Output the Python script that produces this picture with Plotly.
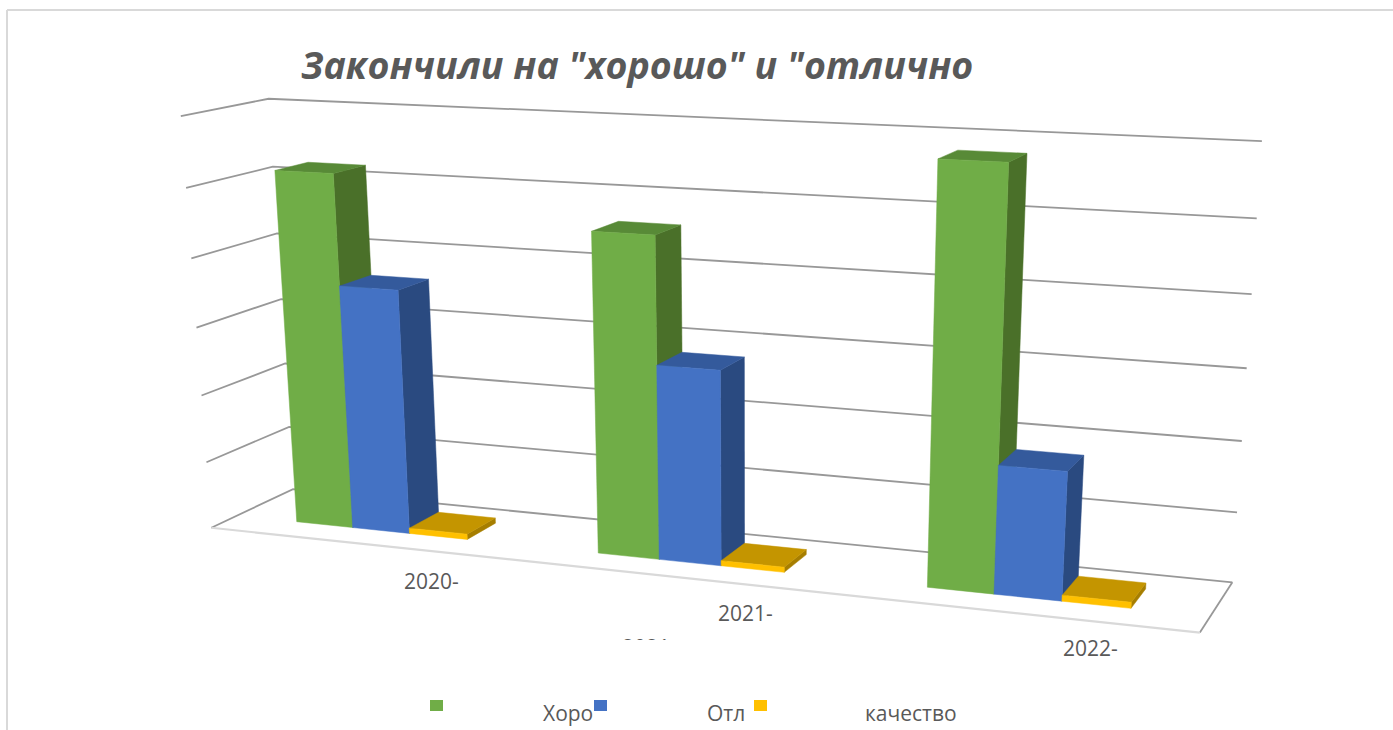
import plotly.graph_objects as go

# ---- data ----
categories = ["2020-", "2021-", "2022-"]
clipped_label = "2021"
good = [52, 46, 58]
excellent = [36, 28, 18]
quality = [0.8, 0.75, 0.85]
series_names = ["Хоро", "Отл", "качество"]
title_text = 'Закончили на "хорошо" и "отлично'
axis_levels = [0, 10, 20, 30, 40, 50, 60]

# ---- style and layout ----
W, H = 1393, 730
FONT = "Open Sans"
TEXT = "#595959"
GRID = "#989898"
PALETTE = [
    dict(front="#70AD47", side="#4A7029", top="#588A37"),
    dict(front="#4472C4", side="#2A4A80", top="#345A9C"),
    dict(front="#FFC000", side="#A67E00", top="#C49500"),
]
# Perspective camera of the 3-D chart: category units, depth 0..1, value/10
CAMERA = [
    [278.749316, 98.3510054, -6.7022457, 211.3191477],
    [8.1828619, -10.8011311, -69.6462189, 527.7475676],
    [-0.0423115, 0.0567911, -0.0089365, 1.0],
]
BAR_START, BAR_WIDTH = 0.208, 0.192
DEPTH_FRONT, DEPTH_BACK = 0.305, 0.70


def project(x, y, v):
    z = v / 10
    h = [r[0] * x + r[1] * y + r[2] * z + r[3] for r in CAMERA]
    return h[0] / h[2], h[1] / h[2]


def polygon(corners, color):
    pts = [project(*c) for c in corners]
    xs = [p[0] for p in pts] + [pts[0][0]]
    ys = [p[1] for p in pts] + [pts[0][1]]
    return go.Scatter(x=xs, y=ys, mode="lines", fill="toself", fillcolor=color,
                      line=dict(color=color, width=0.5), hoverinfo="skip", showlegend=False)


def path(corners, color, width):
    pts = [project(*c) for c in corners]
    return go.Scatter(x=[p[0] for p in pts], y=[p[1] for p in pts], mode="lines",
                      line=dict(color=color, width=width), hoverinfo="skip", showlegend=False)


fig = go.Figure()
n = len(categories)

# Frame and gridlines
for lv in axis_levels:
    fig.add_trace(path([(0, 0, lv), (0, 1, lv), (n, 1, lv)], GRID, 1.8))
fig.add_trace(path([(n, 1, 0), (n, 0, 0)], GRID, 1.8))
fig.add_trace(path([(0, 0, 0), (n, 0, 0)], "#D9D9D9", 2.2))

# Bars
for g in range(n):
    for s, values in enumerate([good, excellent, quality]):
        v = values[g]
        x0 = g + BAR_START + s * BAR_WIDTH
        x1 = x0 + BAR_WIDTH
        y0, y1 = DEPTH_FRONT, DEPTH_BACK
        c = PALETTE[s]
        fig.add_trace(polygon([(x1, y0, 0), (x1, y1, 0), (x1, y1, v), (x1, y0, v)], c["side"]))
        fig.add_trace(polygon([(x0, y0, v), (x1, y0, v), (x1, y1, v), (x0, y1, v)], c["top"]))
        fig.add_trace(polygon([(x0, y0, 0), (x1, y0, 0), (x1, y0, v), (x0, y0, v)], c["front"]))

# Second line of the middle label, cut off by the plot area in the original
fig.add_trace(go.Scatter(x=[646], y=[650], mode="text", text=[clipped_label],
                         textfont=dict(family=FONT, size=21, color=TEXT),
                         hoverinfo="skip", showlegend=False))

shapes = [
    dict(type="rect", xref="x", yref="y", x0=600, x1=700, y0=640, y1=668,
         fillcolor="white", line_width=0, layer="above"),
    dict(type="line", xref="x", yref="y", x0=7, y0=10, x1=1393, y1=10,
         line=dict(color="#D9D9D9", width=2)),
    dict(type="line", xref="x", yref="y", x0=7, y0=10, x1=7, y1=730,
         line=dict(color="#D9D9D9", width=2)),
]
for (a, b, c) in zip([430, 594, 754], [443, 607, 767], PALETTE):
    shapes.append(dict(type="rect", xref="x", yref="y", x0=a, x1=b, y0=700, y1=711,
                       fillcolor=c["front"], line_width=0))

annotations = [
    dict(x=636.5, y=64, text=f"<b><i>{title_text}</i></b>", font=dict(family=FONT, size=37.6, color=TEXT)),
    dict(x=431, y=581, text=categories[0], font=dict(family=FONT, size=21, color=TEXT)),
    dict(x=745, y=613, text=categories[1], font=dict(family=FONT, size=21, color=TEXT)),
    dict(x=1090, y=648, text=categories[2], font=dict(family=FONT, size=21, color=TEXT)),
    dict(x=568, y=713, text=series_names[0], font=dict(family=FONT, size=21, color=TEXT)),
    dict(x=726, y=713, text=series_names[1], font=dict(family=FONT, size=21, color=TEXT)),
    dict(x=911, y=713, text=series_names[2], font=dict(family=FONT, size=21, color=TEXT)),
]
for a in annotations:
    a.update(xref="x", yref="y", showarrow=False, xanchor="center", yanchor="middle")

fig.update_layout(
    width=W, height=H, margin=dict(l=0, r=0, t=0, b=0),
    paper_bgcolor="white", plot_bgcolor="white", showlegend=False,
    xaxis=dict(range=[0, W], visible=False, fixedrange=True),
    yaxis=dict(range=[H, 0], visible=False, fixedrange=True),
    shapes=shapes, annotations=annotations,
)
fig.write_html("out.html", config=dict(displayModeBar=False),
               post_script="document.body.style.margin='0';document.body.style.overflow='hidden';")
